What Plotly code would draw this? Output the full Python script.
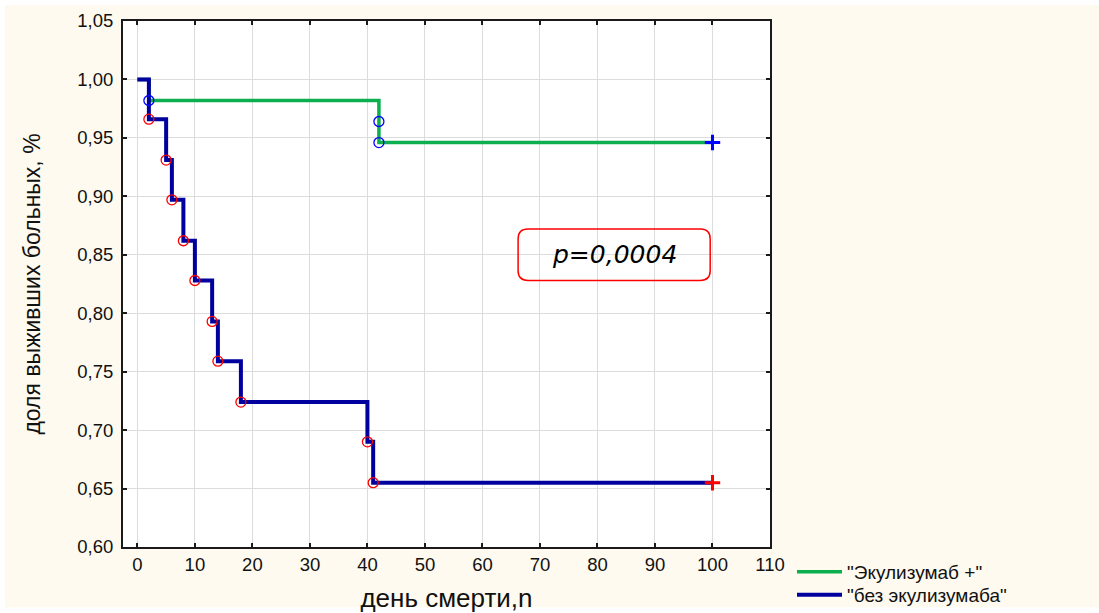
import plotly.graph_objects as go

# Kaplan-Meier survival: event days and survival proportions per group
eku_name = '"Экулизумаб +"'
eku_days = [2, 42, 42]
eku_surv = [0.982, 0.964, 0.946]
eku_last_day = 100

no_eku_name = '"без экулизумаба"'
no_eku_days = [2, 5, 6, 8, 10, 13, 14, 18, 40, 41]
no_eku_surv = [0.966, 0.931, 0.897, 0.862, 0.828, 0.793, 0.759, 0.724, 0.690, 0.655]
no_eku_last_day = 100

x_ticks = list(range(0, 111, 10))
y_ticks = [0.60, 0.65, 0.70, 0.75, 0.80, 0.85, 0.90, 0.95, 1.00, 1.05]
p_text = "p=0,0004"

GREEN = "#0BAF4D"
NAVY = "#00009E"
CREAM = "#FEFAEF"
FONT = "Liberation Sans, Arial, sans-serif"


def step(days, surv, last_day):
    xs = [0] + list(days) + [last_day]
    ys = [1.0] + list(surv) + [surv[-1]]
    return xs, ys


fig = go.Figure()

gx, gy = step(eku_days, eku_surv, eku_last_day)
bx, by = step(no_eku_days, no_eku_surv, no_eku_last_day)

fig.add_trace(go.Scatter(x=gx, y=gy, mode="lines", line=dict(color=GREEN, width=3.5, shape="hv"),
                         name=eku_name, legend="legend"))
fig.add_trace(go.Scatter(x=bx, y=by, mode="lines", line=dict(color=NAVY, width=4, shape="hv"),
                         name=no_eku_name, legend="legend2"))

# event markers
fig.add_trace(go.Scatter(x=no_eku_days, y=no_eku_surv, mode="markers", showlegend=False,
                         marker=dict(symbol="circle-open", size=10, color="#FF0000",
                                     line=dict(width=1.3, color="#FF0000"))))
fig.add_trace(go.Scatter(x=eku_days, y=eku_surv, mode="markers", showlegend=False,
                         marker=dict(symbol="circle-open", size=10, color="#0000FF",
                                     line=dict(width=1.3, color="#0000FF"))))
# censored end points
fig.add_trace(go.Scatter(x=[eku_last_day], y=[eku_surv[-1]], mode="markers", showlegend=False,
                         marker=dict(symbol="cross-thin", size=11, color="#0000FF",
                                     line=dict(width=3, color="#0000FF"))))
fig.add_trace(go.Scatter(x=[no_eku_last_day], y=[no_eku_surv[-1]], mode="markers", showlegend=False,
                         marker=dict(symbol="cross-thin", size=11, color="#FF0000",
                                     line=dict(width=3, color="#FF0000"))))

# rounded box around p-value
x0, x1, y0, y1 = 66.2, 99.6, 0.828, 0.872
rx, ry = 1.7, 0.0085
path = (f"M{x0 + rx},{y1} L{x1 - rx},{y1} Q{x1},{y1} {x1},{y1 - ry} "
        f"L{x1},{y0 + ry} Q{x1},{y0} {x1 - rx},{y0} L{x0 + rx},{y0} "
        f"Q{x0},{y0} {x0},{y0 + ry} L{x0},{y1 - ry} Q{x0},{y1} {x0 + rx},{y1} Z")
fig.add_shape(type="path", path=path, xref="x", yref="y",
              line=dict(color="#FF0000", width=1.5), fillcolor="rgba(0,0,0,0)")
fig.add_annotation(x=(x0 + x1) / 2, y=(y0 + y1) / 2, xref="x", yref="y", text=f"<i>{p_text}</i>",
                   showarrow=False, font=dict(family="DejaVu Sans, Verdana, sans-serif", size=25,
                                              color="#000000"))

# white frame around the cream page
fig.add_shape(type="rect", xref="paper", yref="paper", x0=-0.1907, x1=1.6909, y0=-0.1256, y1=1.0409,
              line=dict(color="#FFFFFF", width=11), fillcolor="rgba(0,0,0,0)", layer="below")

axis_common = dict(
    showline=True, linecolor="#1A1A1A", linewidth=2, mirror="ticks",
    ticks="inside", ticklen=4, tickcolor="#1A1A1A", tickwidth=1.5,
    showgrid=True, gridcolor="#DCDCDC", gridwidth=1, zeroline=False,
    tickfont=dict(family=FONT, size=18.5, color="#111111"), automargin=False,
)

fig.update_xaxes(range=[-2.5, 110], tickvals=x_ticks, **axis_common,
                 title=dict(text="день смерти,n", font=dict(family=FONT, size=26, color="#111111"),
                            standoff=19))
fig.update_yaxes(range=[0.60, 1.05], tickvals=y_ticks, tickformat=".2f", **axis_common,
                 ticklabelstandoff=4,
                 title=dict(text="доля выживших больных, %", font=dict(family=FONT, size=23, color="#111111"),
                            standoff=30))

legend_common = dict(xref="container", yref="container", xanchor="left", yanchor="middle",
                     bgcolor="rgba(0,0,0,0)", font=dict(family=FONT, size=19, color="#111111"),
                     itemwidth=45)

fig.update_layout(
    width=1099, height=613,
    margin=dict(l=123, r=329, t=21, b=66, autoexpand=False),
    paper_bgcolor=CREAM, plot_bgcolor="#FFFFFF",
    separators=", ",
    font=dict(family=FONT),
    legend=dict(x=792 / 1099, y=(613 - 572) / 613, **legend_common),
    legend2=dict(x=792 / 1099, y=(613 - 595) / 613, **legend_common),
)

fig.write_html("out.html")
